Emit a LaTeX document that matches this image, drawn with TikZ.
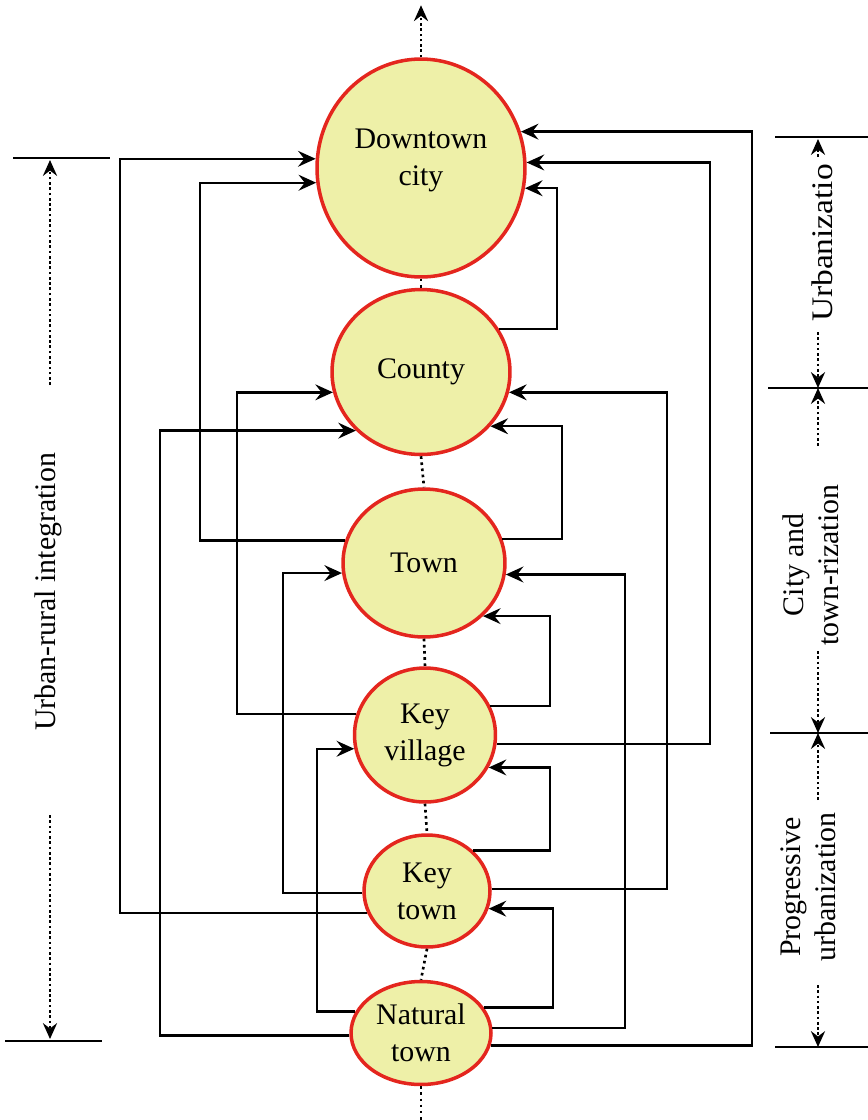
\documentclass[tikz,border=0pt]{standalone}
\usepackage{fontspec}
\setmainfont{Liberation Serif}
\usetikzlibrary{shapes.geometric, arrows.meta}

\definecolor{levelfill}{RGB}{238,240,168}
\definecolor{levelrim}{RGB}{228,38,30}

\tikzset{
    level/.style={ellipse, draw=levelrim, fill=levelfill, line width=2pt, inner sep=0pt, align=center, font=\fontsize{17}{21}\selectfont},
    flow/.style={line width=1.4pt, -{Stealth[length=10pt, width=9pt, inset=3.5pt]}},
    chain/.style={line width=1.5pt, dash pattern=on 1.5pt off 2pt},
    span/.style={line width=1.5pt, dash pattern=on 1.5pt off 1.5pt, -{Stealth[length=9pt, width=8pt, inset=3pt]}},
    tick/.style={line width=1.3pt},
    phase/.style={rotate=90, align=center, font=\fontsize{17}{20}\selectfont}
}

\begin{document}
\begin{tikzpicture}[x=0.02cm, y=-0.02cm]
\useasboundingbox (0,0) rectangle (868,1120);

% levels, top to bottom
\node [level, minimum width=4.16cm, minimum height=4.36cm] (dc) at (421,168) {Downtown\\city\\[-9pt]\mbox{}};
\node [level, minimum width=3.56cm, minimum height=3.30cm] (co) at (421,372) {County};
\node [level, minimum width=3.24cm, minimum height=2.96cm] (to) at (424,563) {Town};
\node [level, minimum width=2.82cm, minimum height=2.68cm] (kv) at (425,735) {Key\\village};
\node [level, minimum width=2.52cm, minimum height=2.24cm] (kt) at (427,891) {Key\\town};
\node [level, minimum width=2.80cm, minimum height=2.06cm] (nt) at (421,1033) {Natural\\town};

\draw [span] (dc.north) -- ++(0,-52);
\draw [chain] (dc.south) -- (co.north);
\draw [chain] (co.south) -- (to.north);
\draw [chain] (to.south) -- (kv.north);
\draw [chain] (kv.south) -- (kt.north);
\draw [chain] (kt.south) -- (nt.north);
\draw [chain] (nt.south) -- ++(0,40);

% into Downtown city
\draw [flow] (co.29)  -| (dc.349 -| 557,0) -- (dc.349);
\draw [flow] (to.164) -| (dc.188 -| 200,0) -- (dc.188);
\draw [flow] (kv.353) -| (dc.3 -| 710,0)   -- (dc.3);
\draw [flow] (kt.200) -| (dc.175 -| 120,0) -- (dc.175);
\draw [flow] (nt.350) -| (dc.20 -| 752,0)  -- (dc.20);
% into County
\draw [flow] (to.17)  -| (co.322 -| 562,0) -- (co.322);
\draw [flow] (kv.163) -| (co.193 -| 237,0) -- (co.193);
\draw [flow] (kt.2)   -| (co.347 -| 667,0) -- (co.347);
\draw [flow] (nt.182) -| (co.222 -| 160,0) -- (co.222);
% into Town
\draw [flow] (kv.24)  -| (to.318 -| 550,0) -- (to.318);
\draw [flow] (kt.182) -| (to.187 -| 283,0) -- (to.187);
\draw [flow] (nt.4)   -| (to.352 -| 625,0) -- (to.352);
% into Key village
\draw [flow] (kt.41)  -| (kv.333 -| 550,0) -- (kv.333);
\draw [flow] (nt.162) -| (kv.191 -| 317,0) -- (kv.191);
% into Key town
\draw [flow] (nt.22)  -| (kt.344 -| 553,0) -- (kt.344);

% stages
\coordinate (tl1) at (50,160);
\coordinate (tl2) at (50,1039);
\coordinate (tr1) at (818,139);
\coordinate (tr2) at (818,388);
\coordinate (tr3) at (818,733);
\coordinate (tr4) at (818,1047);

\draw [tick] (13,158) -- (110,158);
\draw [tick] (5,1041) -- (102,1041);
\draw [tick] (775,137) -- (868,137);
\draw [tick] (768,388) -- (868,388);
\draw [tick] (770,733) -- (868,733);
\draw [tick] (775,1047) -- (868,1047);

\node [phase] (ur) at (48,592) {Urban-rural integration};
\node [phase, xscale=1.12] (ua) at (822,243) {Urbanizatio};
\node [phase] (cb) at (811,565) {City and\\town-rization};
\node [phase] (pu) at (808,887) {Progressive\\urbanization};

\draw [span] (tl1) ++(0,225) -- (tl1);
\draw [span] (tl2) ++(0,-224) -- (tl2);
\draw [span] (tr1) ++(0,18) -- (tr1);
\draw [span] (tr2) ++(0,-56) -- (tr2);
\draw [span] (tr2) ++(0,58) -- (tr2);
\draw [span] (tr3) ++(0,-82) -- (tr3);
\draw [span] (tr3) ++(0,67) -- (tr3);
\draw [span] (tr4) ++(0,-62) -- (tr4);
\end{tikzpicture}
\end{document}
